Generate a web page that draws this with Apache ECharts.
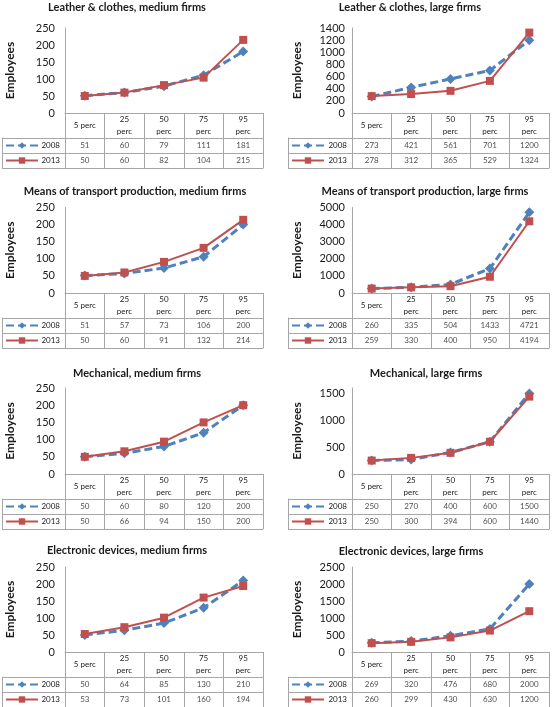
<!DOCTYPE html>
<html>
<head>
<meta charset="utf-8">
<script src="https://cdn.jsdelivr.net/npm/echarts@6/dist/echarts.min.js"></script>
<style>html,body{margin:0;padding:0;background:#fff}#c{width:553px;height:707px}</style>
</head>
<body>
<div id="c"></div>
<script>
// ---- data ----
const categories = ['5 perc', '25\nperc', '50\nperc', '75\nperc', '95\nperc'];
const seriesNames = ['2008', '2013'];
const titles = [
  'Leather & clothes, medium firms',
  'Leather & clothes, large firms',
  'Means of transport production, medium firms',
  'Means of transport production, large firms',
  'Mechanical, medium firms',
  'Mechanical, large firms',
  'Electronic devices, medium firms',
  'Electronic devices, large firms'
];
const values2008 = [
  [51, 60, 79, 111, 181],
  [273, 421, 561, 701, 1200],
  [51, 57, 73, 106, 200],
  [260, 335, 504, 1433, 4721],
  [50, 60, 80, 120, 200],
  [250, 270, 400, 600, 1500],
  [50, 64, 85, 130, 210],
  [269, 320, 476, 680, 2000]
];
const values2013 = [
  [50, 60, 82, 104, 215],
  [278, 312, 365, 529, 1324],
  [50, 60, 91, 132, 214],
  [259, 330, 400, 950, 4194],
  [50, 66, 94, 150, 200],
  [250, 300, 394, 600, 1440],
  [53, 73, 101, 160, 194],
  [260, 299, 430, 630, 1200]
];
const yMax = [250, 1400, 250, 5000, 250, 1600, 250, 2500];
const yStep = [50, 200, 50, 1000, 50, 500, 50, 500];

// ---- layout ----
const colX = [65, 352];
const plotW = [198, 197];
const rowTop = [28, 207.5, 388, 567];
const rowZero = [113, 293, 474, 652];
const headerH = 25, rowH = 15;
const legendColW = [63, 64];
const legendX = [5, 291];
const tickMargin = [10, 7];
const titleX = [127, 410, 135, 425, 137, 426, 127, 411];
const titleY = [7.5, 7.5, 191, 191, 373, 373, 550, 551];
const grey = '#a6a6a6';
const txt = '#1a1a1a';
const blue = '#4f81bd', red = '#c0504d';
const FONT = 'Lato';

const option = {
  animation: false,
  backgroundColor: '#fff',
  textStyle: { fontFamily: FONT },
  title: [], grid: [], xAxis: [], yAxis: [], series: [], legend: []
};

for (let p = 0; p < 8; p++) {
  const col = p % 2, row = Math.floor(p / 2);
  const x0 = colX[col], w = plotW[col], top = rowTop[row], zero = rowZero[row];
  const gPlot = 2 * p, gTab = 2 * p + 1;
  const yPlot = 3 * p, yTab = 3 * p + 1;

  option.title.push({
    text: titles[p], left: titleX[p], top: titleY[p], padding: 0,
    textAlign: 'center', textVerticalAlign: 'middle',
    textStyle: { fontFamily: FONT, fontWeight: 'bold', fontSize: 11, color: txt }
  });

  option.grid.push({ left: x0, top: top, width: w, height: zero - top });
  option.grid.push({ left: x0, top: zero + headerH, width: w, height: 2 * rowH });

  option.xAxis.push({
    gridIndex: gPlot, type: 'category', data: categories, boundaryGap: true,
    axisLine: { show: true, lineStyle: { color: grey, width: 1 } },
    axisTick: { show: true, length: headerH + 2 * rowH, lineStyle: { color: grey } },
    axisLabel: { interval: 0, fontSize: 8, lineHeight: 12.5, verticalAlign: 'middle',
                 margin: headerH / 2, color: txt, fontFamily: FONT }
  });
  option.xAxis.push({
    gridIndex: gTab, type: 'category', data: categories, boundaryGap: true,
    axisLine: { show: true, lineStyle: { color: grey } },
    axisTick: { show: false }, axisLabel: { show: false }
  });

  option.yAxis.push({
    gridIndex: gPlot, type: 'value', min: 0, max: yMax[p], interval: yStep[p],
    splitLine: { show: false },
    axisLine: { show: true, lineStyle: { color: grey } },
    axisTick: { show: false },
    axisLabel: { fontSize: 11, margin: tickMargin[col], color: txt, fontFamily: FONT,
                 showMaxLabel: yMax[p] % yStep[p] === 0,
                 formatter: (v) => String(v) },
    name: 'Employees', nameLocation: 'middle', nameGap: 49,
    nameTextStyle: { fontWeight: 'bold', fontSize: 12, color: txt, fontFamily: FONT }
  });
  option.yAxis.push({
    gridIndex: gTab, type: 'category', data: seriesNames, inverse: true, position: 'left',
    axisLine: { show: true, lineStyle: { color: grey } },
    axisTick: { show: true, length: legendColW[col], lineStyle: { color: grey } },
    splitLine: { show: true, lineStyle: { color: grey } },
    axisLabel: { fontSize: 8, margin: 5, color: txt, fontFamily: FONT }
  });
  option.yAxis.push({
    gridIndex: gTab, type: 'category', data: seriesNames, inverse: true, position: 'left',
    offset: legendColW[col],
    axisLine: { show: true, lineStyle: { color: grey } },
    axisTick: { show: false }, axisLabel: { show: false }, splitLine: { show: false }
  });

  option.series.push({
    name: '2008', type: 'line', xAxisIndex: gPlot, yAxisIndex: yPlot,
    data: values2008[p], symbol: 'diamond', symbolSize: 10,
    itemStyle: { color: blue }, lineStyle: { color: blue, width: 3, type: [8, 4] },
    silent: true
  });
  option.series.push({
    name: '2013', type: 'line', xAxisIndex: gPlot, yAxisIndex: yPlot,
    data: values2013[p], symbol: 'rect', symbolSize: 8,
    itemStyle: { color: red }, lineStyle: { color: red, width: 2 },
    silent: true
  });

  const cells = [];
  [values2008[p], values2013[p]].forEach((vals, r) => {
    vals.forEach((v, c) => cells.push([c, r, v]));
  });
  option.series.push({
    name: 'table' + p, type: 'scatter', xAxisIndex: gTab, yAxisIndex: yTab,
    data: cells, symbolSize: 1, itemStyle: { color: 'transparent' }, silent: true,
    label: { show: true, position: 'inside', fontSize: 8, color: txt, fontFamily: FONT,
             formatter: (d) => String(d.value[2]) }
  });

  option.legend.push({
    left: legendX[col], top: zero + headerH + rowH / 2 - 4, orient: 'vertical',
    itemWidth: 32, itemHeight: 8, itemGap: 7, padding: 0, selectedMode: false,
    data: seriesNames, formatter: () => ' ',
    textStyle: { fontSize: 8, lineHeight: 8 }
  });
}

const chart = echarts.init(document.getElementById('c'), null, { renderer: 'canvas' });
chart.setOption(option);
</script>
</body>
</html>
